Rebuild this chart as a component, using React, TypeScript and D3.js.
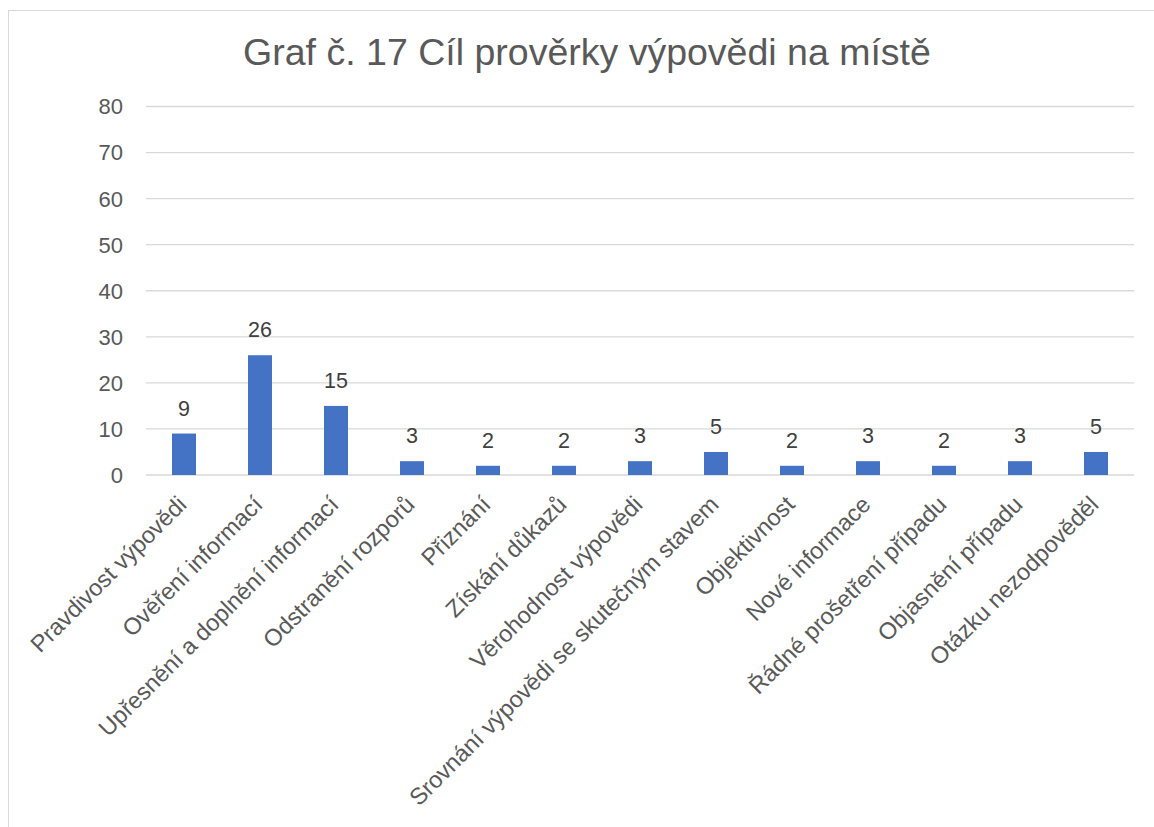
import React from "react";
import * as d3 from "d3";

const categories: string[] = [
  "Pravdivost výpovědi",
  "Ověření informací",
  "Upřesnění a doplnění informací",
  "Odstranění rozporů",
  "Přiznání",
  "Získání důkazů",
  "Věrohodnost výpovědi",
  "Srovnání výpovědi se skutečným stavem",
  "Objektivnost",
  "Nové informace",
  "Řádné prošetření případu",
  "Objasnění případu",
  "Otázku nezodpověděl",
];
const values: number[] = [9, 26, 15, 3, 2, 2, 3, 5, 2, 3, 2, 3, 5];
const yTicks: number[] = [0, 10, 20, 30, 40, 50, 60, 70, 80];
const title = "Graf č. 17 Cíl prověrky výpovědi na místě";

export default function App() {
  const W = 1154, H = 827;
  const left = 146, right = 1134, top = 106.5, bottom = 475;
  const x = d3.scaleBand<string>().domain(categories).range([left, right]).paddingInner(0.684).paddingOuter(0.342);
  const y = d3.scaleLinear().domain([0, 80]).range([bottom, top]);
  const font = "'Liberation Sans', Arial, sans-serif";
  return (
    <svg width={W} height={H} style={{ position: "absolute", left: 0, top: 0 }} fontFamily={font}>
      <rect x={0} y={0} width={W} height={H} fill="#fff" />
      <rect x={8.5} y={10.5} width={W + 20} height={H + 20} fill="none" stroke="#d9d9d9" />
      <text x={587} y={65} textAnchor="middle" fontSize={37.5} fill="#595959">{title}</text>
      {yTicks.map((t) => (
        <g key={t}>
          <line x1={left} x2={right} y1={y(t)} y2={y(t)} stroke="#d9d9d9" strokeWidth={1.3} />
          <text x={123} y={y(t)} dy="0.36em" textAnchor="end" fontSize={22} fill="#595959">{t}</text>
        </g>
      ))}
      {categories.map((c, i) => {
        const bx = x(c)!;
        const cx = bx + x.bandwidth() / 2;
        return (
          <g key={c}>
            <rect x={bx} y={y(values[i])} width={x.bandwidth()} height={bottom - y(values[i])} fill="#4472c4" />
            <text x={cx} y={y(values[i]) - 18} textAnchor="middle" fontSize={21.5} fill="#404040">{values[i]}</text>
            <text transform={`translate(${cx + 4},${bottom + 31}) rotate(-45)`} textAnchor="end" fontSize={23.5} fill="#595959">{c}</text>
          </g>
        );
      })}
    </svg>
  );
}
